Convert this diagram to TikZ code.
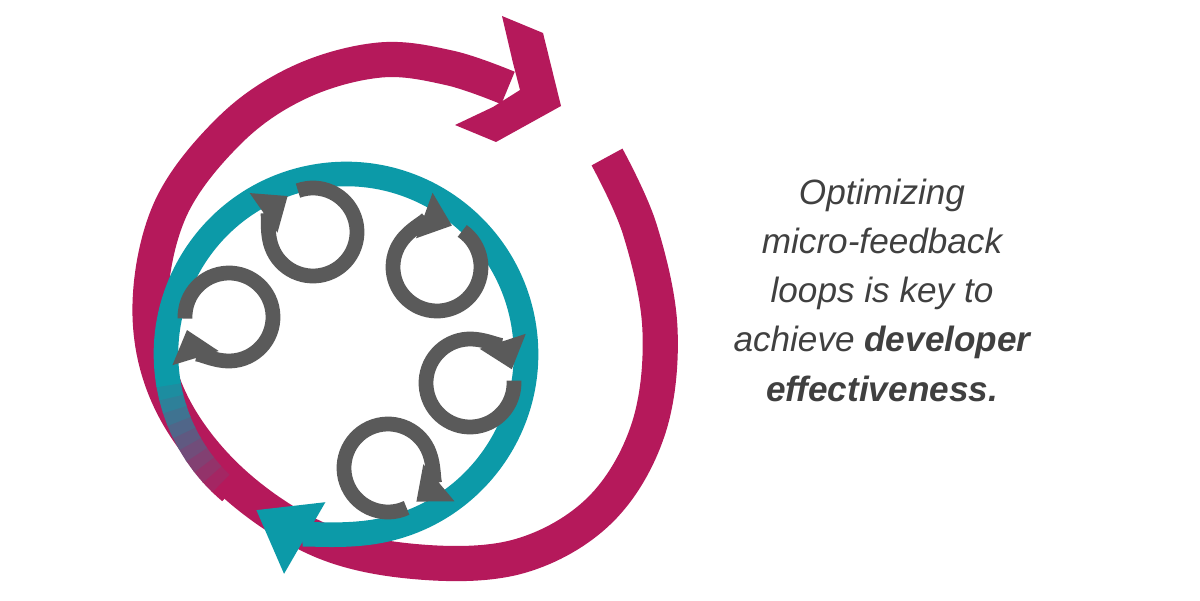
\documentclass[tikz,border=0pt]{standalone}
\usepackage{fontspec}
\setmainfont{Liberation Sans}
\usetikzlibrary{arrows.meta}
\definecolor{mg}{HTML}{B5195B}
\definecolor{tl}{HTML}{0C9AA8}
\definecolor{gr}{HTML}{5A5A5A}
\definecolor{tx}{HTML}{404040}
\begin{document}
\begin{tikzpicture}[x=0.025cm,y=0.025cm,
  bigarc/.style={draw=mg,line width=25pt},
  ring/.style={draw=tl,line width=17.5pt},
  loop/.style={draw=gr,line width=10.5pt,-{Triangle[width=33pt,length=21pt]}}]
\useasboundingbox (0,0) rectangle (1200,600);
% magenta spiral
\draw[bigarc] plot[smooth,tension=0.6] coordinates {(607,443) (640,370) (660,270) (648,170) (600,90) (520,44) (420,38) (320,60) (230,120) (170,200) (150,290) (170,390) (230,470) (300,518) (380,540) (450,532) (508,512)};
\fill[mg] (502,584) -- (543,567) -- (561,494) -- (496,458) -- (455,475) -- (493,493) -- (520,510) -- (513,537) -- cycle;
% teal ring
\coordinate (c) at (346,246);
\foreach \i in {0,...,9}{
  \pgfmathsetmacro\p{10*\i}
  \draw[draw=tl!\p!mg,line width=17.5pt] ([shift={(230-4*\i:180)}]c) arc[start angle=230-4*\i,end angle=225.5-4*\i,radius=180];
}
\draw[ring,-{Triangle[width=56pt,length=40pt]}] ([shift={(190:180)}]c) arc[start angle=190,end angle=-120,radius=180];
% gray loops
\foreach \cx/\cy/\s/\e in {313/368/110/-235, 437/333/55/-290, 229/283/182/-163, 470/217/3/-342, 388/132/-65/-410}{
  \draw[loop] ([shift={(\s:44)}]\cx,\cy) arc[start angle=\s,end angle=\e,radius=44];
}
\node[text=tx,font=\itshape\fontsize{25}{35}\selectfont,align=center] (t) at (882,310)
 {Optimizing\\micro-feedback\\loops is key to\\achieve \textbf{developer}\\\textbf{effectiveness.}};
\end{tikzpicture}
\end{document}
